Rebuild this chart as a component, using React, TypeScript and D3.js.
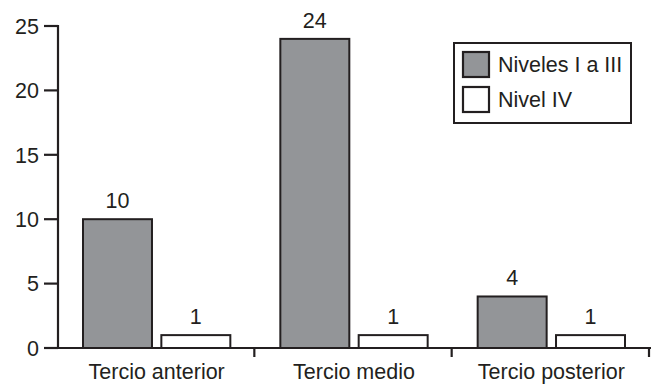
import React from "react";
import * as d3 from "d3";

const categories = ["Tercio anterior", "Tercio medio", "Tercio posterior"];
const seriesNames = ["Niveles I a III", "Nivel IV"];
const nivelesI_III = [10, 24, 4];
const nivelIV = [1, 1, 1];
const yTicks = [0, 5, 10, 15, 20, 25];

const W = 653;
const H = 385;
const INK = "#231f20";
const GRAY = "#939598";
const FONT = "'Liberation Sans', Arial, Helvetica, sans-serif";
const FS = 21.5;

export default function App() {
  const left = 58;
  const right = 650;
  const y0 = 348;
  const yTop = 26;

  const x = d3.scaleBand<string>().domain(categories).range([left, right]).padding(0);
  const inner = d3
    .scaleBand<string>()
    .domain(seriesNames)
    .range([24, x.bandwidth() - 24])
    .paddingInner(0.094)
    .paddingOuter(0);
  const y = d3.scaleLinear().domain([0, 25]).range([y0, yTop]);

  const series = [
    { name: seriesNames[0], values: nivelesI_III, fill: GRAY },
    { name: seriesNames[1], values: nivelIV, fill: "#ffffff" },
  ];

  const boundaries = categories.map((c) => (x(c) as number) + x.bandwidth());

  return (
    <svg
      width={W}
      height={H}
      style={{ position: "absolute", left: 0, top: 0, background: "#fff" }}
      fontFamily={FONT}
    >
      <rect x={0} y={0} width={W} height={H} fill="#fff" />
      {/* bars */}
      {series.map((s) =>
        categories.map((c, i) => {
          const bx = (x(c) as number) + (inner(s.name) as number);
          const bw = inner.bandwidth();
          const v = s.values[i];
          return (
            <g key={s.name + c}>
              <rect
                x={bx + 1}
                y={y(v)}
                width={bw - 2}
                height={y(0) - y(v)}
                fill={s.fill}
                stroke={INK}
                strokeWidth={2}
              />
              <text
                x={bx + bw / 2}
                y={y(v) - 11}
                textAnchor="middle"
                fontSize={FS}
                fill={INK}
              >
                {v}
              </text>
            </g>
          );
        })
      )}
      {/* y axis */}
      <line x1={left} x2={left} y1={yTop - 1} y2={y0 + 1} stroke={INK} strokeWidth={2.2} />
      {yTicks.map((t) => (
        <g key={t}>
          <line x1={44} x2={left} y1={y(t)} y2={y(t)} stroke={INK} strokeWidth={2.2} />
          <text
            x={39}
            y={y(t)}
            dy="0.36em"
            textAnchor="end"
            fontSize={FS}
            fill={INK}
          >
            {t}
          </text>
        </g>
      ))}
      {/* x axis */}
      <line x1={44} x2={right + 1} y1={y0} y2={y0} stroke={INK} strokeWidth={2.2} />
      {boundaries.map((b, i) => (
        <line key={i} x1={b - 1} x2={b - 1} y1={y0} y2={357} stroke={INK} strokeWidth={2.2} />
      ))}
      {categories.map((c) => (
        <text
          key={c}
          x={(x(c) as number) + x.bandwidth() / 2}
          y={379}
          textAnchor="middle"
          fontSize={FS}
          fill={INK}
        >
          {c}
        </text>
      ))}
      {/* legend */}
      <rect x={454} y={43} width={177} height={80} fill="#fff" stroke={INK} strokeWidth={2} />
      {series.map((s, i) => (
        <g key={s.name}>
          <rect
            x={463}
            y={52 + i * 35}
            width={26}
            height={25}
            fill={s.fill}
            stroke={INK}
            strokeWidth={2.2}
          />
          <text x={498} y={64.5 + i * 35} dy="0.36em" fontSize={FS} fill={INK}>
            {s.name}
          </text>
        </g>
      ))}
    </svg>
  );
}
